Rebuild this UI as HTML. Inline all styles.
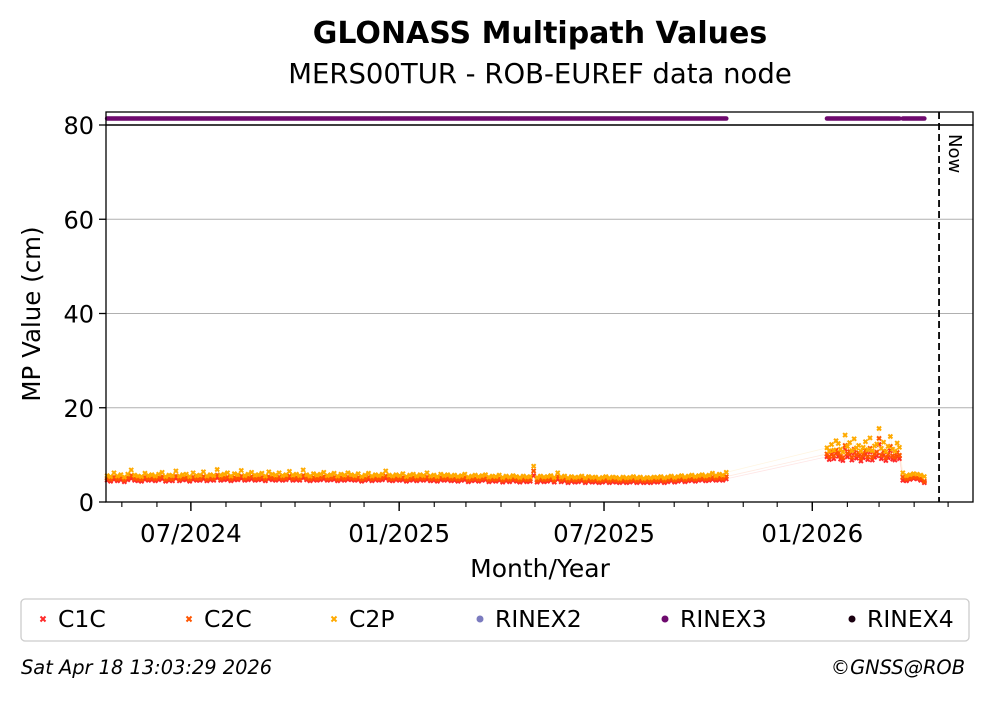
<!DOCTYPE html>
<html><head><meta charset="utf-8"><style>
body{margin:0;background:#fff;}
svg text{font-family:"DejaVu Sans","Liberation Sans",sans-serif;}
</style></head><body>
<svg id="chart" width="992" height="699" viewBox="0 0 992 699" xmlns="http://www.w3.org/2000/svg">
<rect width="992" height="699" fill="#fff"/>
<text x="540" y="43" text-anchor="middle" font-size="30" font-weight="bold">GLONASS Multipath Values</text>
<text x="540" y="83" text-anchor="middle" font-size="27.5">MERS00TUR - ROB-EUREF data node</text>
<g id="grid"></g>
<g id="marks"></g>
<rect x="106" y="112" width="867" height="13" fill="none" stroke="#000" stroke-width="1.3"/>
<rect x="106" y="125" width="867" height="377" fill="none" stroke="#000" stroke-width="1.3"/>
<g id="axes"></g>
<text transform="translate(40,314) rotate(-90)" text-anchor="middle" font-size="24.5">MP Value (cm)</text>
<text x="540" y="577" text-anchor="middle" font-size="25">Month/Year</text>
<rect x="21" y="599" width="948" height="42" rx="4" fill="#fff" stroke="#ccc" stroke-width="1.3"/>
<g id="legend"></g>
<text x="21" y="674" font-size="19.4" font-style="italic">Sat Apr 18 13:03:29 2026</text>
<text x="965" y="674" text-anchor="end" font-size="19.4" font-style="italic">©GNSS@ROB</text>
</svg>
<script>
const yTicks=[0,20,40,60,80];
const xTickLabels=["07/2024","01/2025","07/2025","01/2026"];
const xTickDates=["2024-07-01","2025-01-01","2025-07-01","2026-01-01"];
const segStarts=["2024-04-18","2026-01-14","2026-03-22"];
const segEnds=["2025-10-17","2026-03-19","2026-04-10"];
const nowDate="2026-04-23";
const c2pSeg1="5.6 5.4 6.2 5.5 5.8 5.3 5.9 6.8 5.7 5.5 5.4 6.1 5.6 5.8 5.5 5.9 6.3 5.4 5.7 5.6 6.6 5.5 5.8 5.9 5.4 6.2 5.6 5.7 6.4 5.5 5.8 5.6 6.9 5.7 5.9 6.2 5.5 6.0 5.8 6.7 5.6 5.9 6.3 5.7 5.8 6.1 5.5 6.4 5.9 5.7 6.2 5.6 5.8 6.5 5.7 5.9 5.6 6.8 5.8 5.5 6.0 5.7 5.9 6.3 5.6 5.8 6.1 5.5 5.9 5.7 6.2 5.8 5.6 6.0 5.4 5.7 6.1 5.5 5.8 5.6 5.9 6.6 5.7 5.5 5.8 5.6 6.0 5.4 5.7 5.9 5.5 5.8 5.6 6.2 5.5 5.7 5.4 5.9 5.6 5.8 5.5 5.7 5.4 5.6 5.9 5.3 5.5 5.7 5.4 5.6 5.8 5.3 5.5 5.4 5.7 5.2 5.5 5.3 5.6 5.4 5.2 5.5 5.3 5.4 7.6 5.2 5.5 5.3 5.4 5.6 5.2 6.2 5.3 5.5 5.1 5.4 5.2 5.3 5.5 5.1 5.4 5.2 5.3 5.0 5.2 5.4 5.1 5.3 5.2 5.0 5.3 5.1 5.2 5.4 5.1 5.3 5.0 5.2 5.1 5.3 5.2 5.4 5.1 5.3 5.5 5.2 5.4 5.6 5.3 5.5 5.7 5.4 5.6 5.8 5.5 5.7 6.1 5.6 5.9 5.7 6.3";
const c2cSeg1="5.0 4.8 5.3 4.9 5.1 4.7 5.2 5.6 5.0 4.9 4.8 5.3 5.0 5.1 4.9 5.2 5.4 4.8 5.0 4.9 5.5 4.9 5.1 5.2 4.8 5.3 5.0 5.0 5.4 4.9 5.1 5.0 5.7 5.0 5.2 5.3 4.9 5.2 5.1 5.5 5.0 5.2 5.4 5.0 5.1 5.3 4.9 5.4 5.2 5.0 5.3 5.0 5.1 5.5 5.0 5.2 5.0 5.6 5.1 4.9 5.2 5.0 5.2 5.4 5.0 5.1 5.3 4.9 5.2 5.0 5.3 5.1 5.0 5.2 4.8 5.0 5.3 4.9 5.1 5.0 5.2 5.5 5.0 4.9 5.1 5.0 5.2 4.8 5.0 5.2 4.9 5.1 5.0 5.3 4.9 5.0 4.8 5.2 5.0 5.1 4.9 5.0 4.8 5.0 5.2 4.7 4.9 5.0 4.8 5.0 5.1 4.7 4.9 4.8 5.0 4.6 4.9 4.7 5.0 4.8 4.6 4.9 4.7 4.8 6.6 4.6 4.9 4.7 4.8 5.0 4.6 5.4 4.7 4.9 4.5 4.8 4.6 4.7 4.9 4.5 4.8 4.6 4.7 4.5 4.6 4.8 4.5 4.7 4.6 4.5 4.7 4.5 4.6 4.8 4.5 4.7 4.5 4.6 4.5 4.7 4.6 4.8 4.5 4.7 4.9 4.6 4.8 5.0 4.7 4.9 5.0 4.8 5.0 5.1 4.9 5.0 5.3 5.0 5.2 5.0 5.4";
const c1cSeg1="4.6 4.4 4.8 4.5 4.7 4.3 4.7 5.0 4.6 4.5 4.4 4.8 4.6 4.7 4.5 4.7 4.9 4.4 4.6 4.5 5.0 4.5 4.7 4.7 4.4 4.8 4.6 4.6 4.9 4.5 4.7 4.6 5.1 4.6 4.7 4.8 4.5 4.7 4.7 5.0 4.6 4.7 4.9 4.6 4.7 4.8 4.5 4.9 4.7 4.6 4.8 4.6 4.7 5.0 4.6 4.7 4.6 5.1 4.7 4.5 4.7 4.6 4.7 4.9 4.6 4.7 4.8 4.5 4.7 4.6 4.8 4.7 4.6 4.7 4.4 4.6 4.8 4.5 4.7 4.6 4.7 5.0 4.6 4.5 4.7 4.6 4.7 4.4 4.6 4.7 4.5 4.7 4.6 4.8 4.5 4.6 4.4 4.7 4.6 4.7 4.5 4.6 4.4 4.6 4.7 4.3 4.5 4.6 4.4 4.6 4.7 4.3 4.5 4.4 4.6 4.2 4.5 4.3 4.6 4.4 4.2 4.5 4.3 4.4 5.6 4.2 4.5 4.3 4.4 4.6 4.2 4.8 4.3 4.5 4.1 4.4 4.2 4.3 4.5 4.1 4.4 4.2 4.3 4.1 4.2 4.4 4.1 4.3 4.2 4.1 4.3 4.1 4.2 4.4 4.1 4.3 4.1 4.2 4.1 4.3 4.2 4.4 4.1 4.3 4.5 4.2 4.4 4.6 4.3 4.5 4.6 4.4 4.6 4.7 4.5 4.6 4.8 4.6 4.7 4.6 4.9";
const c2pSeg2="11.5 10.8 12.2 11.0 13.0 12.4 11.2 10.6 14.2 11.8 12.6 10.9 13.4 11.5 12.0 10.8 11.6 12.8 11.1 13.6 10.9 11.9 12.3 15.6 11.4 12.7 10.7 11.8 13.9 11.2 10.8 12.5 11.6";
const c2cSeg2="10.2 9.6 10.8 9.8 11.0 10.4 9.7 9.4 12.0 10.3 10.7 9.5 11.2 10.0 10.4 9.3 10.1 10.9 9.6 11.4 9.5 10.2 10.6 13.5 9.9 10.8 9.4 10.1 11.8 9.8 9.5 10.5 9.9";
const c1cSeg2="9.6 9.0 10.1 9.2 10.3 9.7 9.1 8.8 11.2 9.6 10.0 8.9 10.4 9.3 9.7 8.7 9.4 10.2 9.0 10.6 8.9 9.5 9.8 12.2 9.2 10.0 8.8 9.4 10.9 9.1 8.9 9.7 9.2";
const c2pSeg3="6.2 5.6 5.8 6.0 5.9 5.7 5.4";
const c2cSeg3="5.3 4.9 5.1 5.3 5.2 5.0 4.4";
const c1cSeg3="4.6 4.5 4.8 5.0 4.9 4.6 4.1";
const seriesNames=["C1C","C2C","C2P"];
const seriesColors=["#ff2a2a","#ff5500","#ffaa00"];
const legendNames=["C1C","C2C","C2P","RINEX2","RINEX3","RINEX4"];

const NS="http://www.w3.org/2000/svg";
const X0=106,X1=973,Y0=502,Y1=125;
const dMin=Date.parse("2024-04-17"),dMax=Date.parse("2026-05-23");
function xs(d){return X0+(Date.parse(d)-dMin)/(dMax-dMin)*(X1-X0);}
function xt(t){return X0+(t-dMin)/(dMax-dMin)*(X1-X0);}
function ys(v){return Y0-v/80*(Y0-Y1);}
function mk(tag,attrs,parent){const e=document.createElementNS(NS,tag);for(const k in attrs)e.setAttribute(k,attrs[k]);parent.appendChild(e);return e;}
const grid=document.getElementById('grid'),axes=document.getElementById('axes'),marks=document.getElementById('marks'),leg=document.getElementById('legend');

yTicks.forEach(v=>{
  if(v>0&&v<80){const g=mk('line',{x1:X0,x2:X1,y1:ys(v),y2:ys(v),stroke:'#b0b0b0','stroke-width':1.1},grid);
  
  }
  const t=mk('line',{x1:X0-7,x2:X0,y1:ys(v),y2:ys(v),stroke:'#000','stroke-width':1.3},axes);
  
  
  const l=mk('text',{x:X0-12,y:ys(v)+9,'text-anchor':'end','font-size':24},axes);l.textContent=v;
  
  
});
for(let y=2024;y<=2026;y++)for(let m=0;m<12;m++){const t=Date.UTC(y,m,1);if(t<dMin||t>dMax)continue;
  const e=mk('line',{x1:xt(t),x2:xt(t),y1:Y0,y2:Y0+5,stroke:'#000','stroke-width':1.1},axes);
  
  }
xTickDates.forEach((d,i)=>{
  const e=mk('line',{x1:xs(d),x2:xs(d),y1:Y0,y2:Y0+9,stroke:'#000','stroke-width':1.4},axes);
  
  
  const l=mk('text',{x:xs(d),y:542,'text-anchor':'middle','font-size':24.5},axes);l.textContent=xTickLabels[i];
  
  
});
segStarts.forEach((s,i)=>{
  for(let t=Date.parse(s);t<=Date.parse(segEnds[i]);t+=86400000){
    const c=mk('circle',{cx:xt(t),cy:118.5,r:2.3,fill:'#6e0a6e'},marks);
    
    
  }
});
const segData=[[c1cSeg1,c1cSeg2,c1cSeg3],[c2cSeg1,c2cSeg2,c2cSeg3],[c2pSeg1,c2pSeg2,c2pSeg3]];
segData.forEach((segs,si)=>{
  const pts=[];
  segs.forEach((str,k)=>{
    const vals=str.split(' ').map(Number);
    const a=Date.parse(segStarts[k]),b=Date.parse(segEnds[k]);
    vals.forEach((v,i)=>pts.push([xt(a+(b-a)*i/(vals.length-1)),ys(v)]));
  });
  const pl=mk('polyline',{points:pts.map(p=>p.join(',')).join(' '),fill:'none',stroke:seriesColors[si],'stroke-width':0.8,'stroke-opacity':0.12},marks);
  
  
  pts.forEach(p=>{
    const m=mk('path',{d:`M${p[0]-2},${p[1]-2}L${p[0]+2},${p[1]+2}M${p[0]-2},${p[1]+2}L${p[0]+2},${p[1]-2}`,stroke:seriesColors[si],'stroke-width':2},marks);
    
    
  });
});
const nx=xs(nowDate);
const nl=mk('line',{x1:nx,x2:nx,y1:112,y2:Y0,stroke:'#000','stroke-width':1.8,'stroke-dasharray':'7,4'},axes);


const nt=mk('text',{transform:`translate(${nx+10},134) rotate(90)`,'font-size':18},axes);nt.textContent='Now';


const legX=[43,189,334,480,665,852];
const legCol=["#ff2a2a","#ff5500","#ffaa00","#7b7bbf","#6e0a6e","#1a0010"];
legendNames.forEach((n,i)=>{
  const x=legX[i],y=619;
  let m;
  if(i<3)m=mk('path',{d:`M${x-2.5},${y-2.5}L${x+2.5},${y+2.5}M${x-2.5},${y+2.5}L${x+2.5},${y-2.5}`,stroke:legCol[i],'stroke-width':2},leg);
  else m=mk('circle',{cx:x,cy:y,r:3.5,fill:legCol[i]},leg);
  
  
  const t=mk('text',{x:x+15,y:y+8,'font-size':23.5},leg);t.textContent=n;
  
  
});
</script>
</body></html>
